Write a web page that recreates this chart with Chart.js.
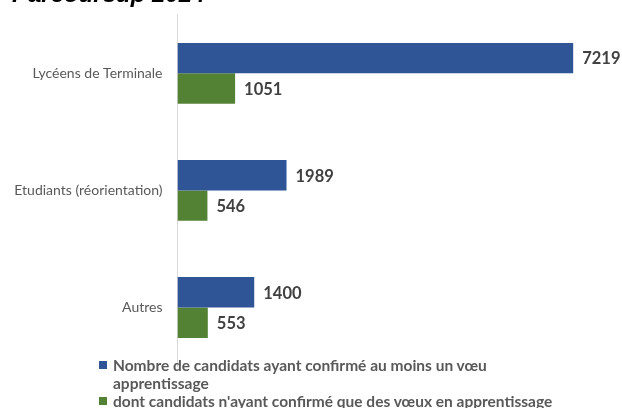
<!DOCTYPE html>
<html>
<head>
<meta charset="utf-8">
<script src="https://cdn.jsdelivr.net/npm/chart.js@4.4.1/dist/chart.umd.min.js"></script>
<style>
body { margin: 0; width: 622px; height: 408px; overflow: hidden; background: #fff; position: relative; }
#wrap { position: absolute; left: 0; top: -19px; width: 622px; height: 427px; }
#legend { position: absolute; left: 99px; top: 356px; font: bold 15.5px Lato, sans-serif; color: #595959; line-height: 18px; }
.item { display: flex; align-items: flex-start; }
.box { width: 8px; height: 8px; margin-top: 5px; margin-right: 6px; flex: none; }
.txt { max-width: 460px; }
</style>
</head>
<body>
<div id="wrap"><canvas id="chart"></canvas></div>
<div id="legend"></div>
<script>
const categories = ['Lycéens de Terminale', 'Etudiants (réorientation)', 'Autres'];
const confirmed = [7219, 1989, 1400];
const onlyApprentice = [1051, 546, 553];
const seriesNames = [
    "Nombre de candidats ayant confirmé au moins un vœu apprentissage",
    "dont candidats n'ayant confirmé que des vœux en apprentissage"
];
const colors = ['#2F5597', '#548235'];

// values written at the end of each bar
const valueLabels = {
    id: 'valueLabels',
    afterDatasetsDraw(chart) {
        const ctx = chart.ctx;
        ctx.save();
        ctx.font = 'bold 16.5px Lato';
        ctx.fillStyle = '#404040';
        ctx.textBaseline = 'middle';
        chart.data.datasets.forEach((ds, i) => {
            chart.getDatasetMeta(i).data.forEach((bar, j) => {
                ctx.fillText(ds.data[j], bar.x + 9, bar.y + 1);
            });
        });
        ctx.restore();
    }
};

const chart = new Chart(document.getElementById('chart'), {
    type: 'bar',
    data: {
        labels: categories,
        datasets: [{
            label: seriesNames[0],
            data: confirmed,
            backgroundColor: colors[0]
        }, {
            label: seriesNames[1],
            data: onlyApprentice,
            backgroundColor: colors[1]
        }]
    },
    options: {
        indexAxis: 'y',
        responsive: true,
        maintainAspectRatio: false,
        animation: false,
        categoryPercentage: 0.52,
        barPercentage: 1,
        layout: { padding: { left: 12, right: 6, top: 0, bottom: 42 } },
        plugins: {
            legend: { display: false },
            tooltip: { enabled: false },
            title: {
                display: true,
                text: 'Parcoursup 2024',
                align: 'start',
                color: '#000',
                font: { family: 'Liberation Sans', size: 24, weight: 'bold', style: 'italic' },
                padding: { top: 0, bottom: 5 }
            }
        },
        scales: {
            x: { display: false, min: 0, max: 8000 },
            y: {
                grid: { display: false },
                border: { display: true, color: '#d9d9d9', width: 1 },
                ticks: { color: '#595959', padding: 7, font: { family: 'Lato', size: 14 } },
                afterFit: (scale) => { scale.width = 165.5; }
            }
        }
    },
    plugins: [valueLabels]
});

// legend below the chart
chart.data.datasets.forEach(ds => {
    document.getElementById('legend').insertAdjacentHTML('beforeend', `
        <div class="item"><span class="box" style="background:${ds.backgroundColor}"></span><span class="txt">${ds.label}</span></div>
    `);
});
</script>
</body>
</html>
